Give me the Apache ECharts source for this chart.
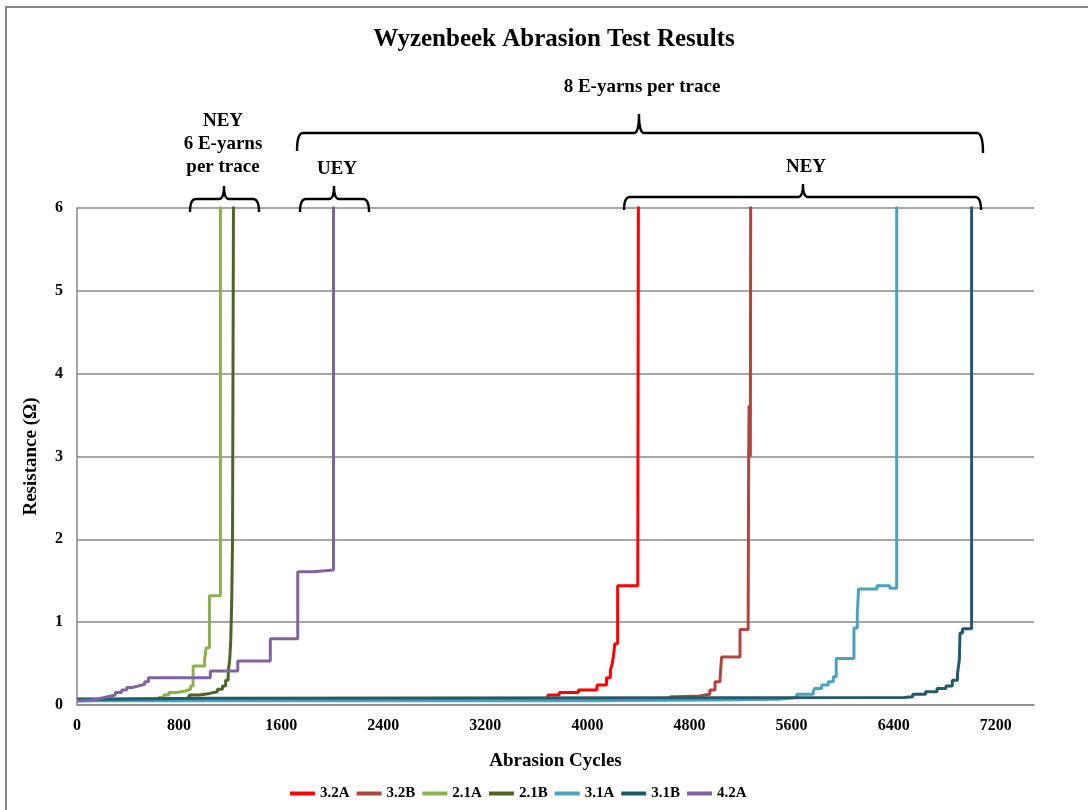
<!DOCTYPE html>
<html>
<head>
<meta charset="utf-8">
<script src="https://cdn.jsdelivr.net/npm/echarts@6/dist/echarts.min.js"></script>
<style>html,body{margin:0;padding:0;background:#fff}#c{width:1088px;height:810px}</style>
</head>
<body>
<div id="c"></div>
<script>
// Series names and colours
const seriesNames = ['3.2A', '3.2B', '2.1A', '2.1B', '3.1A', '3.1B', '4.2A'];
const seriesColors = ['#FF0000', '#B0443F', '#8DB04F', '#4F6228', '#4AA2BC', '#235A69', '#8064A2'];
// [cycles, resistance] step points (value holds from x until next point)
const s32A = [[0,0.06],[3690,0.12],[3780,0.15],[3930,0.18],[4075,0.24],[4150,0.33],[4180,0.42],[4195,0.50],[4205,0.60],[4215,0.74],[4237,1.44],[4395,1.65],[4400,6.5]];
const s32B = [[0,0.07],[4650,0.10],[4700,0.11],[4880,0.13],[4960,0.18],[5000,0.28],[5040,0.33],[5052,0.58],[5196,0.91],[5260,1.09],[5264,3.0],[5267,3.62],[5271,3.0],[5274,3.6],[5277,3.0],[5280,6.5]];
const s21A = [[0,0.06],[640,0.09],[680,0.12],[720,0.15],[780,0.17],[850,0.19],[890,0.23],[910,0.47],[1000,0.55],[1012,0.69],[1038,1.32],[1124,6.5]];
const s21B = [[0,0.07],[840,0.09],[880,0.12],[960,0.14],[1040,0.16],[1100,0.19],[1140,0.23],[1165,0.30],[1185,0.40],[1197,0.55],[1205,0.78],[1213,1.3],[1219,2.0],[1227,6.5]];
const s31A = [[0,0.05],[3000,0.05],[4000,0.06],[5000,0.07],[5500,0.09],[5640,0.13],[5770,0.16],[5780,0.20],[5836,0.24],[5888,0.28],[5927,0.34],[5950,0.56],[6089,0.93],[6115,1.10],[6125,1.40],[6270,1.44],[6370,1.41],[6424,6.5]];
const s31B = [[0,0.07],[200,0.08],[1000,0.09],[6480,0.10],[6550,0.13],[6650,0.16],[6740,0.20],[6810,0.23],[6860,0.30],[6900,0.37],[6915,0.55],[6920,0.87],[6940,0.92],[7011,6.5]];
const s42A = [[0,0.05],[60,0.06],[120,0.08],[180,0.10],[240,0.12],[300,0.15],[350,0.18],[390,0.21],[430,0.23],[480,0.25],[530,0.28],[560,0.33],[1045,0.41],[1260,0.53],[1515,0.80],[1730,1.61],[1850,1.63],[2010,6.5]];
const seriesData = [s32A, s32B, s21A, s21B, s31A, s31B, s42A];

const FONT = '"Liberation Serif","Times New Roman",serif';
const chart = echarts.init(document.getElementById('c'), null, {renderer: 'canvas'});

function quad(p0, c, p1, out) {
  for (let k = 1; k <= 8; k++) {
    const t = k / 8, u = 1 - t;
    out.push([u*u*p0[0] + 2*u*t*c[0] + t*t*p1[0], u*u*p0[1] + 2*u*t*c[1] + t*t*p1[1]]);
  }
}
function braceEl(x1, x2, xm, y, dl, dr, tip) {
  const r = 6, pts = [[x1, y + dl]];
  quad([x1, y + dl], [x1, y], [x1 + r, y], pts);
  pts.push([xm - 5, y]);
  quad([xm - 5, y], [xm, y], [xm, y - tip], pts);
  quad([xm, y - tip], [xm, y], [xm + 5, y], pts);
  pts.push([x2 - r, y]);
  quad([x2 - r, y], [x2, y], [x2, y + dr], pts);
  return {type: 'polyline', shape: {points: pts}, style: {stroke: '#000', lineWidth: 2.4, fill: null}, z: 10, silent: true};
}
function txt(x, y, s, size) {
  return {type: 'text', x: x, y: y, style: {text: s, font: 'bold ' + size + 'px ' + FONT, fill: '#000', align: 'center', verticalAlign: 'middle', lineHeight: 23}, z: 10, silent: true};
}

const option = {
  animation: false,
  backgroundColor: '#fff',
  title: {
    text: 'Wyzenbeek Abrasion Test Results',
    left: 549, top: 22, textAlign: 'center',
    textStyle: {fontFamily: FONT, fontWeight: 'bold', fontSize: 25, color: '#000'}
  },
  legend: {
    data: seriesNames,
    left: 285, top: 781,
    icon: 'rect', itemWidth: 25, itemHeight: 4, itemGap: 7,
    textStyle: {fontFamily: FONT, fontWeight: 'bold', fontSize: 15, color: '#000'}
  },
  grid: {left: 77, right: 54, top: 208, bottom: 105},
  xAxis: {
    type: 'value', min: 0, max: 7500, interval: 800,
    name: 'Abrasion Cycles', nameLocation: 'middle', nameGap: 47,
    nameTextStyle: {fontFamily: FONT, fontWeight: 'bold', fontSize: 19, color: '#000'},
    axisLine: {show: true, lineStyle: {color: '#888', width: 1.5}},
    axisTick: {show: false},
    splitLine: {show: false},
    axisLabel: {showMaxLabel: false, margin: 13, formatter: v => String(v), fontFamily: FONT, fontWeight: 'bold', fontSize: 16, color: '#000'}
  },
  yAxis: {
    type: 'value', min: 0, max: 6, interval: 1,
    name: 'Resistance (Ω)', nameLocation: 'middle', nameRotate: 90, nameGap: 36,
    nameTextStyle: {fontFamily: FONT, fontWeight: 'bold', fontSize: 19, color: '#000'},
    axisLine: {show: true, lineStyle: {color: '#888', width: 1.5}},
    axisTick: {show: false},
    splitLine: {show: true, lineStyle: {color: '#888', width: 1.5}},
    axisLabel: {margin: 14, fontFamily: FONT, fontWeight: 'bold', fontSize: 16, color: '#000'}
  },
  series: seriesNames.map((n, i) => ({
    name: n, type: 'line', step: 'end', data: seriesData[i],
    symbol: 'none', showSymbol: false, clip: true,
    color: seriesColors[i],
    lineStyle: {width: 3, color: seriesColors[i]}
  })),
  graphic: [
    {type: 'rect', shape: {x: 6, y: 7, width: 1200, height: 1000}, style: {stroke: '#888', lineWidth: 2, fill: null}, silent: true},
    txt(642, 87, '8 E-yarns per trace', 19),
    braceEl(297, 983, 639, 133, 18, 20, 19),
    txt(806, 167, 'NEY', 19),
    braceEl(624, 981, 803, 197, 13, 13, 13),
    txt(337, 169, 'UEY', 19),
    braceEl(300, 369, 334, 199, 13, 13, 13),
    txt(223, 144, 'NEY\n6 E-yarns\nper trace', 19),
    braceEl(190, 259, 224, 199, 13, 13, 13)
  ]
};
chart.setOption(option);
</script>
</body>
</html>
